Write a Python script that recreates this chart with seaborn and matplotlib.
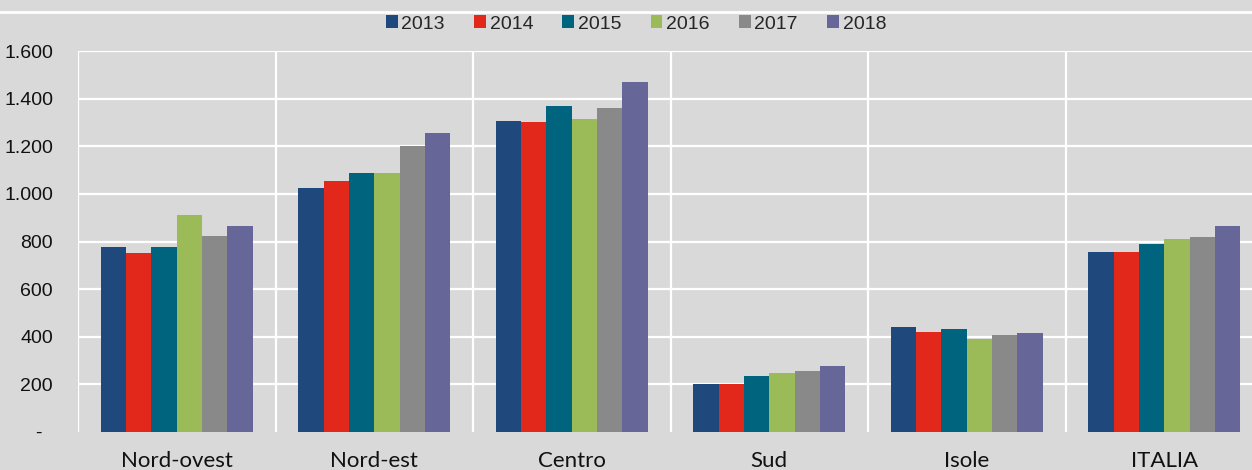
"""
Grouped bar chart by macro-area, 2013-2018 (recreated from reference image).
"""

import matplotlib
matplotlib.use("Agg")
import matplotlib.pyplot as plt
from matplotlib.lines import Line2D
from matplotlib.ticker import FuncFormatter, MultipleLocator
import pandas as pd
import seaborn as sns

# ── Data ──────────────────────────────────────────────────────────────────────
areas = ["Nord-ovest", "Nord-est", "Centro", "Sud", "Isole", "ITALIA"]
years = ["2013", "2014", "2015", "2016", "2017", "2018"]

v2013 = [777, 1025, 1306, 200, 441, 756]
v2014 = [752, 1054, 1302, 200, 420, 756]
v2015 = [777, 1088, 1368, 235, 432, 790]
v2016 = [911, 1088, 1314, 246, 390, 810]
v2017 = [823, 1201, 1362, 255, 407, 819]
v2018 = [865, 1256, 1469, 277, 416, 865]

colors = ["#1f497d", "#e2271b", "#00647f", "#9bbb59", "#898989", "#666699"]

series = [v2013, v2014, v2015, v2016, v2017, v2018]
df = pd.DataFrame(
    [(a, y, v) for y, vals in zip(years, series) for a, v in zip(areas, vals)],
    columns=["area", "anno", "valore"],
)

# ── Style ─────────────────────────────────────────────────────────────────────
BG = "#d9d9d9"
sns.set_style("white", {"axes.facecolor": BG, "figure.facecolor": BG})
plt.rcParams["font.family"] = ["Liberation Sans", "DejaVu Sans"]

W, H = 1252, 470
fig = plt.figure(figsize=(W / 100, H / 100), dpi=100)
ax = fig.add_axes([78 / W, 1 - 432 / H, 1185 / W, 381 / H])

sns.barplot(
    data=df, x="area", y="valore", hue="anno", order=areas, hue_order=years,
    palette=colors, saturation=1, width=0.77, gap=0, linewidth=0,
    ax=ax, legend=True,
)

# ── Axes / grid ───────────────────────────────────────────────────────────────
ax.set_xlim(-0.5, len(areas) - 0.5)
ax.set_ylim(0, 1600)
ax.yaxis.set_major_locator(MultipleLocator(200))
ax.yaxis.set_major_formatter(
    FuncFormatter(lambda v, p: "-  " if v == 0 else f"{int(v):,}".replace(",", "."))
)
ax.set_xlabel("")
ax.set_ylabel("")
for s in ax.spines.values():
    s.set_visible(False)
ax.tick_params(axis="y", length=0, pad=18, labelsize=14, labelcolor="#111111")
ax.tick_params(axis="x", length=0, pad=14, labelsize=16, labelcolor="#111111")
for lab in ax.get_xticklabels():
    lab.set_family(["Lato", "DejaVu Sans"])

ax.set_axisbelow(True)
for yv in range(200, 1601, 200):
    ax.axhline(yv, color="white", lw=1.6, zorder=0)
for xv in [i - 0.5 for i in range(len(areas) + 1)]:
    ax.axvline(xv, color="white", lw=1.6, zorder=0)

# top white rule across the whole figure
fig.add_artist(Line2D([0, 1], [1 - 12 / H, 1 - 12 / H], color="white", lw=2,
                      transform=fig.transFigure))

# ── Legend ────────────────────────────────────────────────────────────────────
handles, labels = ax.get_legend_handles_labels()
ax.get_legend().remove()
fig.legend(
    handles, labels, loc="center", bbox_to_anchor=(636 / W, 1 - 24 / H),
    ncol=6, frameon=False, fontsize=14, handlelength=0.6, handleheight=0.6,
    handletextpad=0.2, columnspacing=1.5, borderaxespad=0,
)

fig.savefig("out.png", dpi=100, facecolor=BG)
